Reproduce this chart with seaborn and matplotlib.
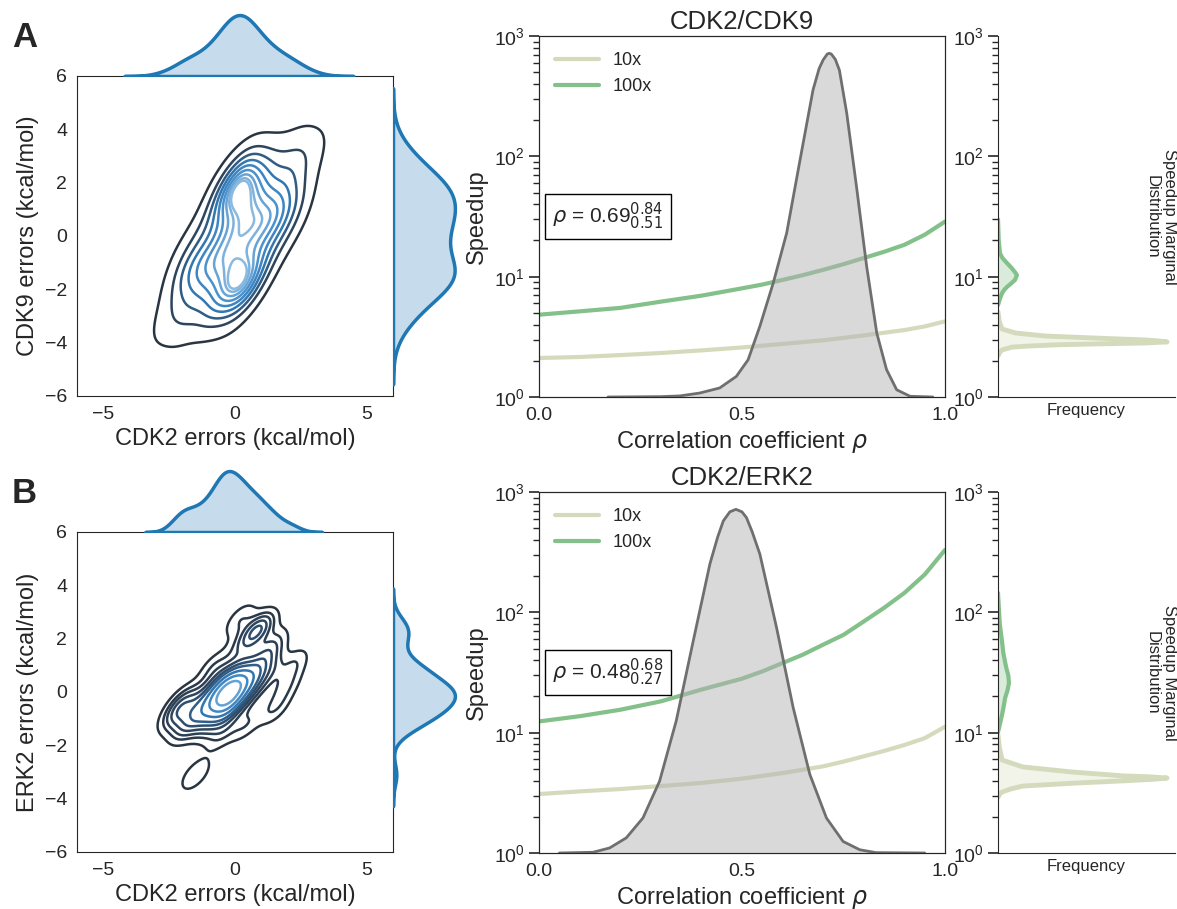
import matplotlib
matplotlib.use("Agg")
import matplotlib.pyplot as plt
import seaborn as sns

sns.set_style("white")
plt.rcParams["font.family"] = ["Liberation Sans", "DejaVu Sans"]
plt.rcParams["mathtext.fontset"] = "dejavusans"

# ---- joint error samples (kcal/mol), estimated from the contour / marginal shapes ----
cdk2_a = [0.80, 0.78, 0.82, 1.48, 0.12, 0.24, 1.36, 1.02, 0.58, 1.64, -0.04, 0.45, 1.15, 1.72, -0.12,
          0.41, 0.28, 1.32, 1.92, -0.32,
          -0.50, -0.13, -0.87, -0.59, -0.41, 0.30, -1.30, 0.11, -1.11, -1.22, 0.22, 0.32, -1.32,
          -0.36, -0.64, -0.11, 0.73, -1.73,
          -1.79, 0.44, 2.09, -0.14, 0.73, -0.43,
          -0.09, 0.59, -1.00, 1.38, -2.11, -0.85, -1.88, 2.41, 1.21, 2.24, -1.85, 2.21, -0.01, 0.31,
          -2.65, 2.95,
          -0.20, 0.50, 0.64, -0.45]
cdk9_a = [1.30, 1.69, 0.92, 1.42, 1.18, 1.96, 0.64, 2.01, 0.59, 0.82, 1.79, 2.05, 0.55, 1.75, 0.85,
          1.58, 2.42, 0.18, 0.80, 1.81,
          -1.45, -1.35, -1.55, -0.76, -2.14, -1.78, -1.12, -1.03, -1.88, -0.80, -2.10, -1.55, -1.35,
          -0.44, -2.46, -1.73, -1.60, -1.30,
          -0.50, -1.87, 0.40, 1.77, -1.47, 1.37,
          0.13, -0.12, 0.42, -0.57, -1.63, -2.79, -2.66, 1.53, 2.77, 2.65, -3.31, 3.29, -2.66, 2.56,
          -3.22, 3.12,
          -0.54, 0.44, -0.40, 0.14]

cdk2_b = [-0.30, -0.11, -0.49, 0.28, -0.88, -0.35, -0.25, 0.38, -0.98, 0.15, -0.75, 0.74, -1.34,
          -0.01, -0.59, -0.59, -0.02, 0.82, -1.42, 0.70, -1.30, 1.29, -1.89, -0.27, -0.33, 0.37,
          -0.97, 1.25, -1.90, -0.14, -0.49, 0.08,
          0.87, 0.90, 0.84, 0.30, 1.40, 0.20,
          -2.30, -2.10, -1.90, 1.90, 1.50, -0.50, 0.40, -0.80, 2.20,
          -1.50]
erk2_b = [-0.10, 0.15, -0.35, 0.12, -0.32, 0.23, -0.43, 0.50, -0.70, -0.22, 0.02, 0.50, -0.70,
          0.53, -0.73, 0.31, -0.51, 0.92, -1.12, 0.04, -0.24, 0.76, -0.96, 0.65, -0.85, 1.04,
          -1.24, 1.34, -1.35, 0.01, -0.17, 0.23,
          2.33, 2.36, 2.30, 1.80, 1.80, 2.70,
          -0.90, -0.60, -0.30, 0.20, -0.60, -1.55, -1.20, 0.90, 1.00,
          -3.10]

# ---- speedup vs correlation coefficient ----
rho_grid = [0.0, 0.1, 0.2, 0.3, 0.4, 0.5, 0.55, 0.6, 0.65, 0.7, 0.75, 0.8, 0.85, 0.9, 0.95, 1.0]
speed10_a = [2.11, 2.15, 2.23, 2.32, 2.44, 2.58, 2.67, 2.76, 2.86, 2.96, 3.1, 3.25, 3.42, 3.6, 3.86, 4.25]
speed100_a = [4.83, 5.15, 5.5, 6.2, 6.95, 8.0, 8.6, 9.4, 10.3, 11.4, 12.7, 14.3, 16.1, 18.4, 22.3, 28.7]
speed10_b = [3.09, 3.25, 3.4, 3.6, 3.82, 4.15, 4.37, 4.62, 4.92, 5.25, 5.75, 6.36, 7.05, 7.9, 9.0, 11.2]
speed100_b = [12.4, 13.7, 15.5, 18.2, 22.8, 28.1, 32.3, 37.9, 44.5, 53.9, 65.0, 84.0, 109.0, 145.0, 206.0, 330.0]

# ---- posterior of rho (relative density) ----
post_rho_a = [0.17, 0.30, 0.347, 0.396, 0.445, 0.486, 0.515, 0.544, 0.577, 0.610, 0.643, 0.675,
              0.69, 0.70, 0.71, 0.715, 0.72, 0.73, 0.74, 0.758, 0.782, 0.807, 0.832, 0.856, 0.881,
              0.914, 0.97]
post_den_a = [0.0, 0.001, 0.003, 0.011, 0.025, 0.057, 0.103, 0.196, 0.316, 0.454, 0.657, 0.851,
              0.91, 0.934, 0.95, 0.952, 0.95, 0.935, 0.905, 0.786, 0.583, 0.362, 0.177, 0.076, 0.020,
              0.002, 0.0]
post_rho_b = [0.05, 0.133, 0.174, 0.215, 0.256, 0.297, 0.338, 0.380, 0.421, 0.44, 0.454, 0.47, 0.485,
              0.50, 0.511, 0.525, 0.544, 0.585, 0.626, 0.667, 0.708, 0.749, 0.790, 0.83, 0.95]
post_den_b = [0.0, 0.002, 0.014, 0.042, 0.097, 0.199, 0.366, 0.588, 0.801, 0.875, 0.92, 0.945, 0.952,
              0.945, 0.929, 0.89, 0.828, 0.625, 0.403, 0.218, 0.097, 0.032, 0.009, 0.001, 0.0]

# ---- speedup marginal distributions (relative frequency) ----
marg10_sp_a = [2.2, 2.35, 2.46, 2.6, 2.65, 2.72, 2.76, 2.81, 2.87, 2.93, 2.98, 3.09, 3.21, 3.4, 3.67, 4.2, 5.1]
marg10_fq_a = [0.0, 0.01, 0.023, 0.08, 0.17, 0.35, 0.55, 0.83, 0.955, 0.9, 0.83, 0.55, 0.27, 0.1, 0.023, 0.008, 0.0]
marg100_sp_a = [5.8, 6.5, 7.3, 7.8, 8.2, 8.8, 9.4, 10.3, 10.9, 11.9, 13.0, 14.3, 15.7, 20.0, 30.0]
marg100_fq_a = [0.0, 0.01, 0.023, 0.036, 0.05, 0.075, 0.096, 0.107, 0.096, 0.075, 0.05, 0.025, 0.011, 0.004, 0.0]
marg10_sp_b = [2.9, 3.1, 3.21, 3.4, 3.6, 3.8, 3.98, 4.1, 4.2, 4.3, 4.37, 4.71, 5.19, 5.93, 7.5, 9.6]
marg10_fq_b = [0.0, 0.01, 0.023, 0.07, 0.14, 0.42, 0.71, 0.88, 0.955, 0.85, 0.71, 0.42, 0.14, 0.023, 0.008, 0.0]
marg100_sp_b = [10.1, 12.0, 14.1, 16.5, 19.4, 22.5, 25.9, 30.0, 34.0, 38.6, 46.0, 56.9, 80.0, 145.0]
marg100_fq_b = [0.0, 0.012, 0.023, 0.032, 0.04, 0.054, 0.062, 0.058, 0.048, 0.04, 0.03, 0.023, 0.01, 0.0]

pairs = ["CDK2/CDK9", "CDK2/ERK2"]
rho_text = [r"$\rho$ = 0.69$^{0.84}_{0.51}$", r"$\rho$ = 0.48$^{0.68}_{0.27}$"]

blue = "#1f77b4"
c10 = "#d4dbbc"
c100 = "#84c08a"
cmap = sns.blend_palette(["#2a3542", "#2f4a66", "#3178b4", "#4d94cf", "#a6cbe8"], as_cmap=True)

W, H = 1177, 909
fig = plt.figure(figsize=(W / 100, H / 100), dpi=100)


def box(l, t, r, b):
    return [l / W, 1 - b / H, (r - l) / W, (b - t) / H]


rows = [
    dict(x=cdk2_a, y=cdk9_a, ylab="CDK9 errors (kcal/mol)", s10=speed10_a, s100=speed100_a,
         pr=post_rho_a, pd=post_den_a, m10=(marg10_sp_a, marg10_fq_a), m100=(marg100_sp_a, marg100_fq_a),
         top=76, top2=36, letter="A", bw=1.0),
    dict(x=cdk2_b, y=erk2_b, ylab="ERK2 errors (kcal/mol)", s10=speed10_b, s100=speed100_b,
         pr=post_rho_b, pd=post_den_b, m10=(marg10_sp_b, marg10_fq_b), m100=(marg100_sp_b, marg100_fq_b),
         top=532, top2=492, letter="B", bw=0.75),
]

for i, r in enumerate(rows):
    t = r["top"]
    # joint kde
    ax_j = fig.add_axes(box(77, t, 393, t + 320))
    sns.kdeplot(x=r["x"], y=r["y"], ax=ax_j, levels=10, cmap=cmap, linewidths=1.8, bw_adjust=r["bw"])
    ax_j.set_xlim(-6, 6)
    ax_j.set_ylim(-6, 6)
    ax_j.set_xticks([-5, 0, 5])
    ax_j.set_yticks([-6, -4, -2, 0, 2, 4, 6])
    ax_j.tick_params(labelsize=14)
    ax_j.set_xlabel("CDK2 errors (kcal/mol)", fontsize=17)
    ax_j.set_ylabel(r["ylab"], fontsize=17)

    ax_t = fig.add_axes(box(77, t - 64, 393, t))
    sns.kdeplot(x=r["x"], ax=ax_t, fill=True, color=blue, linewidth=2.5, bw_adjust=r["bw"])
    ax_t.set_xlim(-6, 6)
    ax_t.set_ylim(bottom=0)
    ax_t.axis("off")

    ax_r = fig.add_axes(box(393, t, 458, t + 320))
    sns.kdeplot(y=r["y"], ax=ax_r, fill=True, color=blue, linewidth=2.5, bw_adjust=r["bw"])
    ax_r.set_ylim(-6, 6)
    ax_r.set_xlim(left=0)
    ax_r.axis("off")

    fig.text(12 / W, 1 - (t - 29) / H, r["letter"], fontsize=25, fontweight="bold", va="baseline")

    # speedup vs rho
    t2 = r["top2"]
    ax_s = fig.add_axes(box(539, t2, 945, t2 + 361))
    sns.lineplot(x=rho_grid, y=r["s10"], ax=ax_s, color=c10, linewidth=3, label="10x")
    sns.lineplot(x=rho_grid, y=r["s100"], ax=ax_s, color=c100, linewidth=3, label="100x")
    ax_s.set_yscale("log")
    ax_s.set_ylim(1, 1000)
    ax_s.set_xlim(0, 1)
    ax_s.set_xticks([0, 0.5, 1.0])
    ax_s.set_xticklabels(["0.0", "0.5", "1.0"])
    ax_s.tick_params(labelsize=14)
    ax_s.tick_params(axis="y", which="major", left=True, length=7, width=1.2)
    ax_s.tick_params(axis="y", which="minor", left=True, length=4, width=1)
    ax_s.set_xlabel(r"Correlation coefficient $\rho$", fontsize=17)
    ax_s.set_ylabel("Speedup", fontsize=17)
    ax_s.set_title(pairs[i], fontsize=18.5, pad=5)
    ax_s.legend(loc="upper left", frameon=False, fontsize=13, handlelength=2.4)
    ax_s.text(0.17, 0.5, rho_text[i], transform=ax_s.transAxes, ha="center", va="center",
              fontsize=15, bbox=dict(boxstyle="square,pad=0.35", fc="white", ec="black", lw=1))

    ax_p = ax_s.twinx()
    ax_p.fill_between(r["pr"], r["pd"], color="#b4b4b4", alpha=0.5, lw=0)
    ax_p.plot(r["pr"], r["pd"], color="#6f6f6f", lw=2)
    ax_p.set_ylim(0, 1)
    ax_p.set_yticks([])

    # speedup marginal
    ax_m = fig.add_axes(box(998, t2, 1175, t2 + 361))
    sp, fq = r["m10"]
    ax_m.fill_betweenx(sp, 0, fq, color=c10, alpha=0.3, lw=0)
    ax_m.plot(fq, sp, color=c10, lw=3.5)
    sp, fq = r["m100"]
    ax_m.fill_betweenx(sp, 0, fq, color=c100, alpha=0.3, lw=0)
    ax_m.plot(fq, sp, color=c100, lw=3)
    ax_m.set_yscale("log")
    ax_m.set_ylim(1, 1000)
    ax_m.set_xlim(0, 1)
    ax_m.set_xticks([])
    ax_m.tick_params(labelsize=14)
    ax_m.tick_params(axis="y", which="major", left=True, length=7, width=1.2)
    ax_m.tick_params(axis="y", which="minor", left=True, length=4, width=1)
    ax_m.set_xlabel("Frequency", fontsize=12)
    sns.despine(ax=ax_m)
    ax_m.text(0.92, 0.5, "Speedup Marginal\nDistribution", transform=ax_m.transAxes, rotation=270,
              ha="center", va="center", fontsize=12)

fig.savefig("out.png", dpi=100)
